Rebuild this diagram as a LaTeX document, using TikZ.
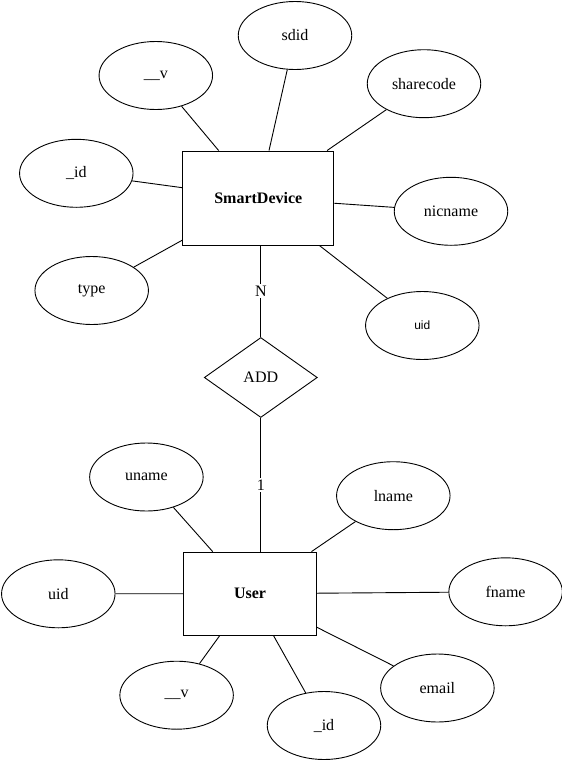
\documentclass[tikz,border=0pt]{standalone}
\usepackage{fontspec}
\setmainfont{Liberation Serif}
\newfontfamily\uidfont{Liberation Sans}
\usetikzlibrary{shapes.geometric}

\begin{document}
\begin{tikzpicture}[x=1pt,y=-1pt,line width=0.9pt,
    font=\fontsize{16}{19}\selectfont,
    attr/.style={draw,ellipse,minimum width=113.5pt,minimum height=68pt,inner sep=0pt},
    entity/.style={draw,rectangle,inner sep=0pt,font=\fontsize{16}{19}\selectfont\bfseries},
    rel/.style={draw,diamond,minimum width=113pt,minimum height=80pt,inner sep=0pt},
    card/.style={midway,fill=white,inner sep=2pt}]
\useasboundingbox (0,0) rectangle (562,761);

\node[entity,minimum width=151pt,minimum height=94pt] (sd) at (258.3,198) {SmartDevice};
\node[attr] (sdid) at (295,35.5) {sdid};
\node[attr] (sdv) at (155.8,75.5) {\_\_v};
\node[attr] (share) at (424,83.7) {sharecode};
\node[attr] (sdidx) at (76.3,173.3) {\_id};
\node[attr] (nic) at (451,211.3) {nicname};
\node[attr] (type) at (91.7,290.5) {type};
\node[attr,font=\uidfont\fontsize{12}{14}\selectfont] (sduid) at (422.3,325.5) {uid};

\node[rel] (add) at (260.8,377.5) {ADD};

\node[entity,minimum width=133pt,minimum height=83.3pt] (user) at (250,593.7) {User};
\node[attr] (uname) at (146.4,477) {uname};
\node[attr] (lname) at (393.3,495.7) {lname};
\node[attr] (uuid) at (58.3,593.8) {uid};
\node[attr] (fname) at (505.6,591.8) {fname};
\node[attr] (uv) at (176.6,695.2) {\_\_v};
\node[attr] (uidx) at (324,725.5) {\_id};
\node[attr] (email) at (437.4,688) {email};

\foreach \a in {sdid,sdv,share,sdidx,nic,type,sduid}
    \draw (\a) -- (sd);
\foreach \a in {uname,lname,uuid,fname,uv,uidx,email}
    \draw (\a) -- (user);

\draw (add) -- (add |- sd.south) node[card] {N};
\draw (add) -- (add |- user.north) node[card] {1};
\end{tikzpicture}
\end{document}
